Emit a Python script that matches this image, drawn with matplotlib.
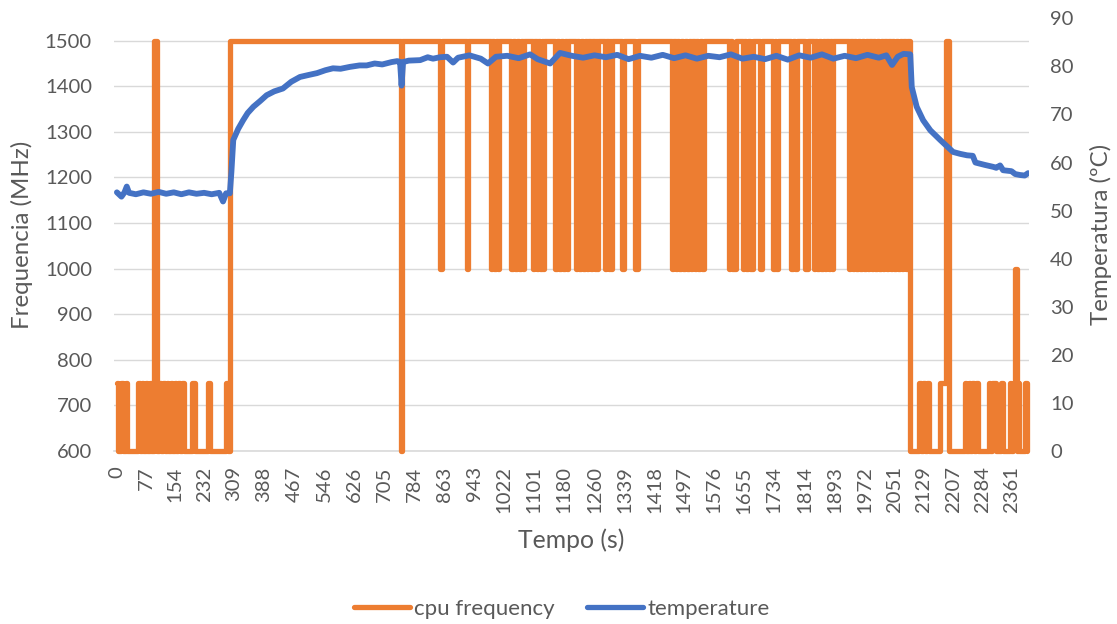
import matplotlib
matplotlib.use("Agg")
import matplotlib.pyplot as plt
from matplotlib.lines import Line2D

ORANGE = "#ED7D31"
BLUE = "#4472C4"
TXT = "#595959"
GRID = "#D9D9D9"

# ---------------- data ----------------
x_tick_values = [0, 77, 154, 232, 309, 388, 467, 546, 626, 705, 784, 863, 943,
                 1022, 1101, 1180, 1260, 1339, 1418, 1497, 1576, 1655, 1734,
                 1814, 1893, 1972, 2051, 2129, 2207, 2284, 2361]

freq_left_ticks = [600, 700, 800, 900, 1000, 1100, 1200, 1300, 1400, 1500]
temp_right_ticks = [0, 10, 20, 30, 40, 50, 60, 70, 80, 90]

# cpu frequency: time (s) at which the value changes, and the new value (MHz)
freq_time = [
    0, 4, 11, 15, 23, 27,
    56, 60, 66, 70, 76, 80, 86, 90,
    98, 106,
    112, 116, 122, 126, 132, 136, 142, 146, 152, 156, 162, 166, 172, 177,
    199, 207,
    241, 246,
    287, 292,
    299,
    749, 753,
    853, 857,
    923, 927,
    986, 990, 996, 1000, 1005, 1009,
    1041, 1045, 1051, 1055, 1061, 1065, 1071, 1075,
    1097, 1101, 1107, 1111, 1117, 1121, 1124, 1128,
    1157, 1161, 1167, 1171, 1177, 1181, 1187, 1191,
    1210, 1214, 1220, 1224, 1230, 1234, 1240, 1244, 1250, 1254, 1260, 1264, 1266, 1270,
    1287, 1291, 1297, 1301, 1303, 1307,
    1333, 1339,
    1366, 1376,
    1464, 1468, 1474, 1478, 1484, 1488, 1494, 1498, 1504, 1508, 1514, 1518, 1524, 1528, 1534, 1538, 1544, 1550,
    1614, 1618, 1624, 1632,
    1651, 1655, 1661, 1665, 1671, 1677,
    1697, 1701,
    1730, 1736, 1739, 1743,
    1778, 1784, 1788, 1793,
    1816, 1822,
    1838, 1842, 1848, 1852, 1858, 1862, 1868, 1872, 1878, 1882, 1886, 1890,
    1931, 1935, 1941, 1945, 1951, 1955, 1961, 1965, 1971, 1975, 1981, 1985, 1991, 1995, 2001, 2005,
    2011, 2015, 2021, 2025, 2031, 2035, 2041, 2045, 2051, 2055, 2061, 2065, 2071, 2075, 2081, 2085,
    2092,
    2117, 2121, 2127, 2131, 2137, 2143,
    2172, 2188, 2194,
    2237, 2241, 2247, 2251, 2257, 2261, 2267, 2271,
    2300, 2304, 2310, 2318,
    2333, 2339,
    2355, 2359, 2365, 2369, 2375, 2378, 2381,
    2397, 2400, 2401,
]
freq_mhz = [
    750, 600, 750, 600, 750, 600,
    750, 600, 750, 600, 750, 600, 750, 600,
    1500, 600,
    750, 600, 750, 600, 750, 600, 750, 600, 750, 600, 750, 600, 750, 600,
    750, 600,
    750, 600,
    750, 600,
    1500,
    600, 1500,
    1000, 1500,
    1000, 1500,
    1000, 1500, 1000, 1500, 1000, 1500,
    1000, 1500, 1000, 1500, 1000, 1500, 1000, 1500,
    1000, 1500, 1000, 1500, 1000, 1500, 1000, 1500,
    1000, 1500, 1000, 1500, 1000, 1500, 1000, 1500,
    1000, 1500, 1000, 1500, 1000, 1500, 1000, 1500, 1000, 1500, 1000, 1500, 1000, 1500,
    1000, 1500, 1000, 1500, 1000, 1500,
    1000, 1500,
    1000, 1500,
    1000, 1500, 1000, 1500, 1000, 1500, 1000, 1500, 1000, 1500, 1000, 1500, 1000, 1500, 1000, 1500, 1000, 1500,
    1000, 1500, 1000, 1500,
    1000, 1500, 1000, 1500, 1000, 1500,
    1000, 1500,
    1000, 1500, 1000, 1500,
    1000, 1500, 1000, 1500,
    1000, 1500,
    1000, 1500, 1000, 1500, 1000, 1500, 1000, 1500, 1000, 1500, 1000, 1500,
    1000, 1500, 1000, 1500, 1000, 1500, 1000, 1500, 1000, 1500, 1000, 1500, 1000, 1500, 1000, 1500,
    1000, 1500, 1000, 1500, 1000, 1500, 1000, 1500, 1000, 1500, 1000, 1500, 1000, 1500, 1000, 1500,
    600,
    750, 600, 750, 600, 750, 600,
    750, 1500, 600,
    750, 600, 750, 600, 750, 600, 750, 600,
    750, 600, 750, 600,
    750, 600,
    750, 600, 750, 1000, 600, 750, 600,
    750, 600, 600,
]

# temperature (ºC) sampled along time (s)
temp_time = [
    0, 12, 20, 26, 32, 50, 70, 90, 110, 130, 150, 170, 190, 210, 230, 250, 270, 280, 288, 298,
    302, 307, 320, 333, 345, 360, 378, 395, 415, 438, 460, 483, 505, 528, 550, 570, 590, 615,
    640, 659, 680, 700, 725, 740, 747, 751, 755, 770, 800, 820, 834, 852,
    871, 887, 900, 930, 960, 979, 1000, 1030, 1060, 1090, 1110, 1143, 1169, 1200, 1230, 1260,
    1290, 1320, 1350, 1380, 1410, 1440, 1470, 1500, 1530, 1560, 1590, 1620, 1650, 1680, 1710,
    1740, 1770, 1800, 1830, 1860, 1890, 1920, 1950, 1980, 2010, 2030, 2045, 2060, 2075, 2093,
    2097, 2110, 2127, 2146, 2172, 2206, 2225, 2243, 2258, 2265, 2290, 2312, 2320, 2330, 2338,
    2360, 2370, 2383, 2395, 2404,
]
temp_c = [
    53.8, 52.9, 53.8, 55.0, 53.7, 53.4, 53.8, 53.5, 53.9, 53.5, 53.8, 53.4, 53.8, 53.5, 53.7, 53.4, 53.7, 51.9, 53.6, 53.6,
    58.0, 64.7, 67.0, 68.8, 70.3, 71.6, 72.8, 74.0, 74.8, 75.4, 76.8, 77.8, 78.2, 78.6, 79.2, 79.6, 79.5, 79.9,
    80.2, 80.2, 80.6, 80.4, 80.9, 81.1, 80.9, 76.0, 80.9, 81.2, 81.3, 81.9, 81.6, 81.9,
    82.0, 80.8, 81.8, 82.3, 81.6, 80.6, 82.0, 82.2, 81.7, 82.5, 81.5, 80.6, 82.8, 82.2, 81.8, 82.3,
    81.9, 82.4, 81.5, 82.2, 81.8, 82.4, 81.7, 82.3, 81.6, 82.2, 81.9, 82.5, 81.6, 82.0, 81.5,
    82.2, 81.4, 82.3, 81.8, 82.5, 81.6, 82.2, 81.7, 82.4, 81.8, 82.3, 80.3, 82.0, 82.6, 82.5,
    75.7, 71.6, 68.8, 66.7, 64.7, 62.2, 61.8, 61.5, 61.4, 60.0, 59.5, 59.1, 58.9, 59.4, 58.4,
    58.2, 57.6, 57.4, 57.3, 57.8,
]

# ---------------- figure ----------------
plt.rcParams["font.family"] = ["Lato", "DejaVu Sans"]

W, H = 1117, 624
fig = plt.figure(figsize=(W / 100, H / 100), dpi=100)
L, R, T, B = 113.5, 1028.5, 18.3, 451.0
ax = fig.add_axes([L / W, 1 - B / H, (R - L) / W, (B - T) / H])
ax2 = ax.twinx()

ax.step(freq_time, freq_mhz, where="post", color=ORANGE, lw=3.8,
        solid_joinstyle="round", solid_capstyle="round", clip_on=False, zorder=3)
ax2.plot(temp_time, temp_c, color=BLUE, lw=4.2,
         solid_joinstyle="round", solid_capstyle="round", zorder=4)

ax.set_xlim(-9, 2405)
ax.set_ylim(600, 1549)
ax2.set_ylim(0, 90)

ax.set_yticks(freq_left_ticks)
ax2.set_yticks(temp_right_ticks)
ax.set_xticks(x_tick_values)
ax.set_xticklabels([str(v) for v in x_tick_values], rotation=90)

ax.grid(axis="y", color=GRID, lw=1.0)
ax.grid(axis="x", visible=False)
ax.set_axisbelow(True)
ax2.grid(False)

for a in (ax, ax2):
    for s in a.spines.values():
        s.set_visible(False)
ax.spines["bottom"].set_visible(True)
ax.spines["bottom"].set_color(GRID)
ax.spines["bottom"].set_linewidth(1.2)

ax.tick_params(axis="y", length=0, colors=TXT, labelsize=14.6, pad=15.5)
ax.tick_params(axis="x", length=0, colors=TXT, labelsize=14.6, pad=11)
ax2.tick_params(axis="y", length=0, colors=TXT, labelsize=14.6, pad=15.5)

fig.text(22 / W, 1 - 234.5 / H, "Frequencia (MHz)", rotation=90, ha="center", va="center",
         color=TXT, fontsize=17.3)
fig.text(1101 / W, 1 - 234.5 / H, "Temperatura (ºC)", rotation=90, ha="center", va="center",
         color=TXT, fontsize=17.3)
fig.text(571 / W, 1 - 540 / H, "Tempo (s)", ha="center", va="center", color=TXT, fontsize=17.8)

handles = [Line2D([], [], color=ORANGE, lw=3.8, solid_capstyle="round"),
           Line2D([], [], color=BLUE, lw=3.8, solid_capstyle="round")]
leg = fig.legend(handles, ["cpu frequency", "temperature"], loc="center",
                 bbox_to_anchor=(562 / W, 1 - 609 / H), ncol=2, frameon=False,
                 fontsize=16, handlelength=2.5, handletextpad=0.2, columnspacing=1.45)
for t in leg.get_texts():
    t.set_color(TXT)

fig.savefig("out.png", dpi=100)
